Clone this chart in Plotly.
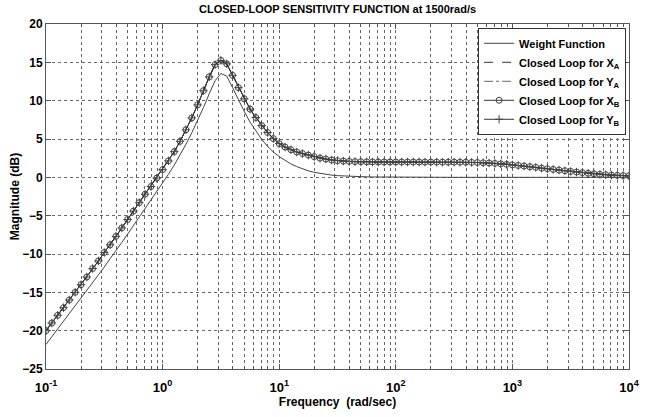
import plotly.graph_objects as go

# sampling grid: exponents of frequency (rad/sec), 0.05 decade steps from 1e-1 to 1e4
log_freq = [round(-1 + 0.05 * i, 2) for i in range(101)]
freq = [10 ** e for e in log_freq]

# x tick positions / labels
x_tick_vals = [0.1, 1, 10, 100, 1000, 10000]
x_tick_text = ["10<sup>-1</sup>", "10<sup>0</sup>", "10<sup>1</sup>",
               "10<sup>2</sup>", "10<sup>3</sup>", "10<sup>4</sup>"]
# minor grid positions (2..9 within each decade)
x_minor_vals = [m * d for d in [0.1, 1, 10, 100, 1000] for m in range(2, 10)]

# Closed-loop sensitivity magnitude (dB)
closed_loop = [
    -20.0, -19.0, -18.0, -17.0, -16.0, -15.0, -14.0, -13.0, -11.9, -10.9,
    -9.8, -8.8, -7.7, -6.6, -5.5, -4.4, -3.3, -2.2, -1.2, -0.1,
    1.0, 2.15, 3.35, 4.7, 6.2, 7.75, 9.45, 11.3, 13.1, 14.7,
    15.25, 14.8, 13.3, 11.7, 10.25, 8.9, 7.8, 6.75, 5.85, 5.05,
    4.4, 3.95, 3.6, 3.3, 3.1, 2.9, 2.7, 2.5, 2.38, 2.26,
    2.18, 2.12, 2.08, 2.05, 2.03, 2.02, 2.01, 2.0, 2.0, 2.0,
    2.0, 2.0, 2.0, 2.0, 2.0, 1.99, 1.99, 1.99, 1.98, 1.98,
    1.98, 1.97, 1.97, 1.95, 1.93, 1.9, 1.87, 1.82, 1.76, 1.7,
    1.62, 1.55, 1.47, 1.38, 1.3, 1.2, 1.12, 1.03, 0.94, 0.86,
    0.77, 0.69, 0.61, 0.53, 0.46, 0.39, 0.33, 0.29, 0.26, 0.23,
    0.2,
]
closed_loop_XA = closed_loop
closed_loop_YA = closed_loop
closed_loop_XB = closed_loop
closed_loop_YB = closed_loop

# Weight function magnitude (dB)
weight = [
    -21.8, -20.8, -19.8, -18.8, -17.8, -16.8, -15.8, -14.8, -13.8, -12.7,
    -11.7, -10.6, -9.6, -8.5, -7.4, -6.3, -5.2, -4.1, -3.0, -1.9,
    -0.8, 0.4, 1.6, 2.9, 4.3, 5.8, 7.4, 9.1, 10.9, 12.6,
    13.55, 13.2, 11.7, 10.1, 8.6, 7.2, 6.0, 4.95, 4.05, 3.3,
    2.7, 2.2, 1.75, 1.4, 1.1, 0.85, 0.65, 0.5, 0.38, 0.29,
    0.22, 0.17, 0.13, 0.1, 0.08, 0.06, 0.05, 0.04, 0.03, 0.02,
    0.01, 0.01, 0.01, 0.0, 0.0, 0.0, 0.0, 0.0, 0.0, 0.0,
    0.0, 0.0, 0.0, 0.0, 0.0, 0.0, 0.0, 0.0, 0.0, 0.0,
    0.0, 0.0, 0.0, 0.0, 0.0, 0.0, 0.0, 0.0, 0.0, 0.0,
    0.0, 0.0, 0.0, 0.0, 0.0, 0.0, 0.0, 0.0, 0.0, 0.0,
    0.0,
]

FONT = "Liberation Sans Narrow, Arial Narrow, Liberation Sans, Arial, sans-serif"
LINE = "#333333"

fig = go.Figure()
fig.add_trace(go.Scatter(x=freq, y=weight, mode="lines", name="Weight Function",
                         line=dict(color="#444444", width=1)))
fig.add_trace(go.Scatter(x=freq, y=closed_loop_XA, mode="lines", name="Closed Loop for X<sub>A</sub>",
                         line=dict(color=LINE, width=1, dash="dash")))
fig.add_trace(go.Scatter(x=freq, y=closed_loop_YA, mode="lines", name="Closed Loop for Y<sub>A</sub>",
                         line=dict(color="#666666", width=1, dash="dashdot")))
fig.add_trace(go.Scatter(x=freq, y=closed_loop_XB, mode="lines+markers", name="Closed Loop for X<sub>B</sub>",
                         line=dict(color=LINE, width=1),
                         marker=dict(symbol="circle-open", size=6, color="#444444", line=dict(width=1))))
fig.add_trace(go.Scatter(x=freq, y=closed_loop_YB, mode="lines+markers", name="Closed Loop for Y<sub>B</sub>",
                         line=dict(color=LINE, width=1),
                         marker=dict(symbol="cross-thin-open", size=6, color="#444444", line=dict(width=1, color="#444444"))))

axis_common = dict(
    showline=True, linecolor="#555555", linewidth=1, mirror="ticks",
    ticks="inside", ticklen=5, tickcolor="#555555",
    showgrid=True, gridcolor="#666666", griddash="dot", gridwidth=1,
    zeroline=False,
)

fig.update_layout(
    width=653, height=417,
    margin=dict(l=46, r=24, t=24, b=39),
    paper_bgcolor="white", plot_bgcolor="white",
    title=dict(text="CLOSED-LOOP SENSITIVITY FUNCTION at 1500rad/s",
               x=0.517, xanchor="center", y=1 - 9 / 417, yanchor="middle",
               font=dict(family=FONT, size=11, color="black", weight="bold")),
    xaxis=dict(type="log", range=[-1, 4], tickmode="array",
               tickvals=x_tick_vals, ticktext=x_tick_text, ticklabelstandoff=6,
               tickfont=dict(family=FONT, size=13, color="black", weight="bold"),
               title=dict(text="Frequency  (rad/sec)", standoff=2,
                          font=dict(family=FONT, size=12, color="black", weight="bold")),
               minor=dict(tickmode="array", tickvals=x_minor_vals,
                          showgrid=True, gridcolor="#666666", griddash="dot", gridwidth=1,
                          ticks="inside", ticklen=3, tickcolor="#555555"),
               **axis_common),
    yaxis=dict(range=[-25, 20], dtick=5,
               tickfont=dict(family=FONT, size=12, color="black", weight="bold"),
               title=dict(text="Magnitude (dB)", standoff=0,
                          font=dict(family=FONT, size=12, color="black", weight="bold")),
               **axis_common),
    legend=dict(x=0.995, xanchor="right", y=0.989, yanchor="top",
                bgcolor="white", bordercolor="#333333", borderwidth=1,
                font=dict(family=FONT, size=11, color="black", weight="bold"),
                tracegroupgap=0, itemwidth=30),
    showlegend=True,
)

fig.write_html("out.html")
